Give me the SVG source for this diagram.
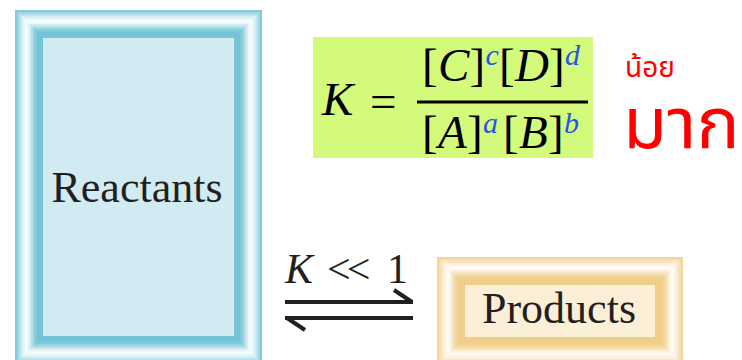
<svg xmlns="http://www.w3.org/2000/svg" width="742" height="360" viewBox="0 0 742 360">
<style>
.f{fill:none;stroke-width:2}
.b1{stroke:#80cadb}.b2{stroke:#9ed7e3}.b3{stroke:#bbe3ec}.b4{stroke:#d4eef3}.b5{stroke:#e8f6f9}.b6{stroke:#f7fcfd}.b7{stroke:#eef8fa}.b8{stroke:#d2edf3}.b9{stroke:#b4e0ea}.b10{stroke:#96d3e1}.b11{stroke:#7ecad9}.b12{stroke:#72c4d6}
.o1{stroke:#f2d49c}.o2{stroke:#f5deb2}.o3{stroke:#f8e8c9}.o4{stroke:#fbf0dc}.o5{stroke:#fdf6ec}.o6{stroke:#fffbf5}.o7{stroke:#fdf5e8}.o8{stroke:#f9e8c9}.o9{stroke:#f6dfb3}.o10{stroke:#f3d59e}.o11{stroke:#f1cf8f}.o12{stroke:#f0cd88}
.serif{font-family:"Liberation Serif","Times New Roman",serif;fill:#231f20}
.m{font-family:"Liberation Serif","Times New Roman",serif;font-size:47px;fill:#000}
.it{font-style:italic}
.sup{font-size:30px;font-style:italic;fill:#2255e8}
.thai{font-family:"Noto Sans Thai","Noto Sans","DejaVu Sans",sans-serif;fill:#ff0000}
.ar{stroke:#231f20;stroke-width:4;fill:none}
</style>
<rect width="742" height="360" fill="#ffffff"/>
<g id="reactants">
<rect class="f b1" x="16" y="11" width="245" height="352"/>
<rect class="f b2" x="18" y="13" width="241" height="348"/>
<rect class="f b3" x="20" y="15" width="237" height="344"/>
<rect class="f b4" x="22" y="17" width="233" height="340"/>
<rect class="f b5" x="24" y="19" width="229" height="336"/>
<rect class="f b6" x="26" y="21" width="225" height="332"/>
<rect class="f b7" x="28" y="23" width="221" height="328"/>
<rect class="f b8" x="30" y="25" width="217" height="324"/>
<rect class="f b9" x="32" y="27" width="213" height="320"/>
<rect class="f b10" x="34" y="29" width="209" height="316"/>
<rect class="f b11" x="36" y="31" width="205" height="312"/>
<rect class="f b12" x="38" y="33" width="201" height="308"/>
<rect class="f b12" x="40" y="35" width="197" height="304"/>
<rect class="f b12" x="42" y="37" width="193" height="300"/>
<rect x="43" y="38" width="191" height="298" fill="#d2eaf1"/>
<text class="serif" x="137" y="202" font-size="44" text-anchor="middle">Reactants</text>
</g>
<g id="products">
<rect class="f o1" x="438" y="258" width="244" height="106"/>
<rect class="f o2" x="440" y="260" width="240" height="102"/>
<rect class="f o3" x="442" y="262" width="236" height="98"/>
<rect class="f o4" x="444" y="264" width="232" height="94"/>
<rect class="f o5" x="446" y="266" width="228" height="90"/>
<rect class="f o6" x="448" y="268" width="224" height="86"/>
<rect class="f o7" x="450" y="270" width="220" height="82"/>
<rect class="f o8" x="452" y="272" width="216" height="78"/>
<rect class="f o9" x="454" y="274" width="212" height="74"/>
<rect class="f o10" x="456" y="276" width="208" height="70"/>
<rect class="f o11" x="458" y="278" width="204" height="66"/>
<rect class="f o12" x="460" y="280" width="200" height="62"/>
<rect class="f o12" x="462" y="282" width="196" height="58"/>
<rect class="f o12" x="464" y="284" width="192" height="54"/>
<rect x="465" y="285" width="190" height="52" fill="#fcefd8"/>
<text class="serif" x="559" y="323" font-size="44" text-anchor="middle">Products</text>
</g>
<g id="formula">
<rect x="313" y="37" width="280" height="121" fill="#d4fa7c"/>
<text class="m it" x="322" y="115" font-size="46">K</text>
<text class="m" x="370" y="117" font-size="54">=</text>
<text class="m"><tspan x="422" y="81">[</tspan><tspan class="it" x="438" y="81">C</tspan><tspan x="469.5" y="81">]</tspan><tspan class="sup" x="485.5" y="65">c</tspan><tspan x="499" y="81">[</tspan><tspan class="it" x="515" y="81">D</tspan><tspan x="549" y="81">]</tspan><tspan class="sup" x="565" y="65">d</tspan></text>
<line x1="417" y1="102" x2="588" y2="102" stroke="#000" stroke-width="3"/>
<text class="m"><tspan x="422" y="148">[</tspan><tspan class="it" x="438" y="148">A</tspan><tspan x="467" y="148">]</tspan><tspan class="sup" x="483" y="133">a</tspan><tspan x="503" y="148">[</tspan><tspan class="it" x="519" y="148">B</tspan><tspan x="548" y="148">]</tspan><tspan class="sup" x="564" y="133">b</tspan></text>
</g>
<g id="labels">
<text class="thai"><tspan x="625" y="77" font-size="28">น้อย</tspan><tspan x="623" y="148" font-size="72">มาก</tspan></text>
</g>
<g id="k-label">
<text class="serif"><tspan class="it" x="285" y="283" font-size="42">K</tspan><tspan x="327" y="283" font-size="42" letter-spacing="-4">&lt;&lt;</tspan><tspan x="387" y="283" font-size="42" letter-spacing="0">1</tspan></text>
</g>
<g id="connectors">
<path class="ar" d="M285 302 H413"/>
<path class="ar" d="M394 290 L412 302"/>
<path class="ar" d="M285 318 H413"/>
<path class="ar" d="M287 318 L305 330"/>
</g>
</svg>
